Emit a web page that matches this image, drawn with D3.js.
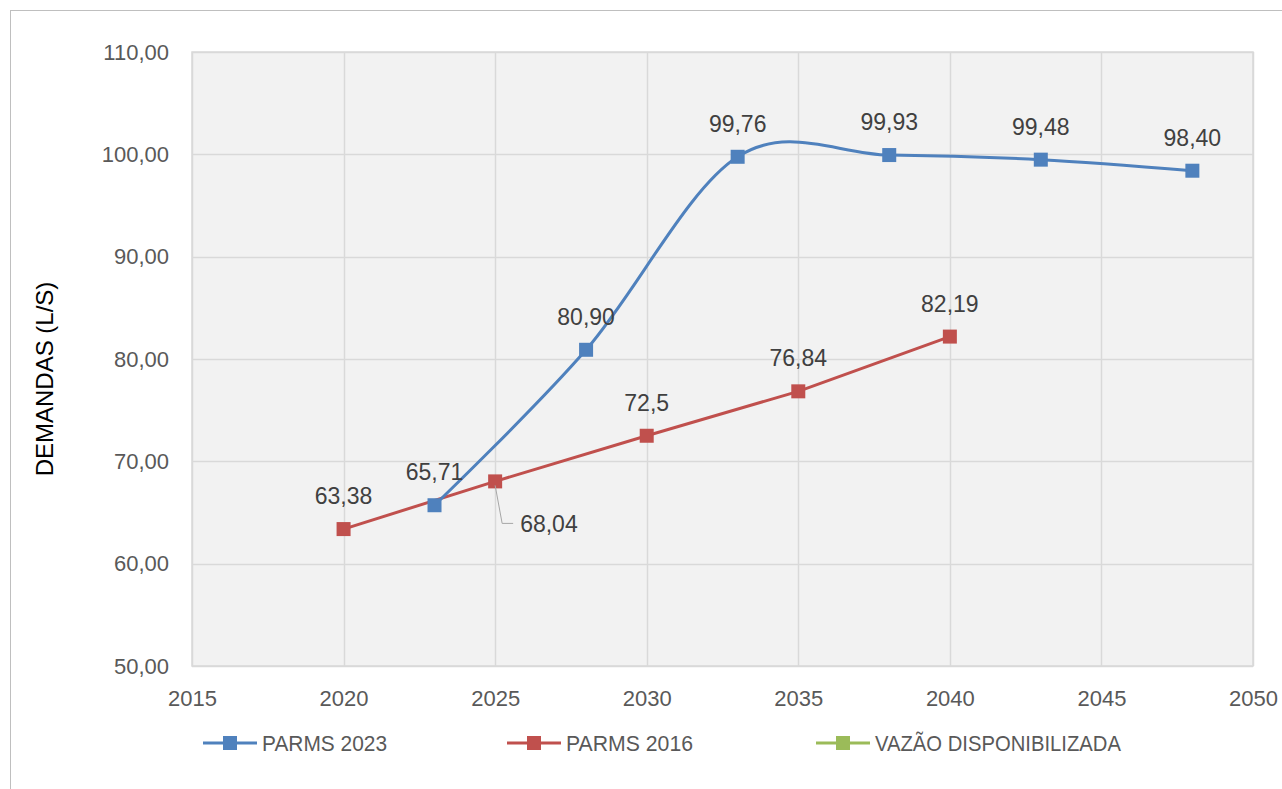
<!DOCTYPE html>
<html><head><meta charset="utf-8">
<script src="https://cdn.jsdelivr.net/npm/d3@7"></script>
<style>body{margin:0;background:#fff}svg{display:block}</style>
</head><body>
<script>
const years2023 = [2023, 2028, 2033, 2038, 2043, 2048];
const values2023 = [65.71, 80.90, 99.76, 99.93, 99.48, 98.40];
const labels2023 = ["65,71", "80,90", "99,76", "99,93", "99,48", "98,40"];
const years2016 = [2020, 2025, 2030, 2035, 2040];
const values2016 = [63.38, 68.04, 72.5, 76.84, 82.19];
const labels2016 = ["63,38", "68,04", "72,5", "76,84", "82,19"];
const yTicks = [50, 60, 70, 80, 90, 100, 110];
const xTicks = [2015, 2020, 2025, 2030, 2035, 2040, 2045, 2050];
const seriesNames = ["PARMS 2023", "PARMS 2016", "VAZÃO DISPONIBILIZADA"];
const seriesColors = ["#4f81bd", "#c0504d", "#9bbb59"];

const W = 1282, H = 789;
const font = "'Liberation Sans', Arial, sans-serif";
const svg = d3.select("body").append("svg").attr("width", W).attr("height", H);

// outer frame
svg.append("rect").attr("x", 10.5).attr("y", 10.5).attr("width", W + 10).attr("height", H + 10)
  .attr("fill", "#fff").attr("stroke", "#bfbfbf").attr("stroke-width", 1);

const L = 192, R = 1253, T = 52, B = 666;
const x = d3.scaleLinear().domain([2015, 2050]).range([L, R]);
const y = d3.scaleLinear().domain([50, 110]).range([B, T]);

svg.append("rect").attr("x", L).attr("y", T).attr("width", R - L).attr("height", B - T)
  .attr("fill", "#f2f2f2");

// gridlines
svg.append("g").selectAll("line").data(yTicks).join("line")
  .attr("x1", L).attr("x2", R).attr("y1", d => Math.round(y(d)) + 0.5).attr("y2", d => Math.round(y(d)) + 0.5)
  .attr("stroke", "#d9d9d9").attr("stroke-width", 1.5);
svg.append("g").selectAll("line").data(xTicks).join("line")
  .attr("y1", T).attr("y2", B).attr("x1", d => Math.round(x(d)) + 0.5).attr("x2", d => Math.round(x(d)) + 0.5)
  .attr("stroke", "#d9d9d9").attr("stroke-width", 1.5);
svg.append("rect").attr("x", L).attr("y", T).attr("width", R - L).attr("height", B - T)
  .attr("fill", "none").attr("stroke", "#d9d9d9").attr("stroke-width", 1.5);

// axes (labels only)
const yAxis = d3.axisLeft(y).tickValues(yTicks).tickSize(0).tickPadding(23)
  .tickFormat(d => d3.format(".2f")(d).replace(".", ","));
const gy = svg.append("g").attr("transform", `translate(${L},0)`).call(yAxis);
gy.select(".domain").remove();
gy.selectAll("text").attr("fill", "#595959").style("font-family", font).style("font-size", "22px");

const xAxis = d3.axisBottom(x).tickValues(xTicks).tickSize(0).tickPadding(24).tickFormat(d3.format("d"));
const gx = svg.append("g").attr("transform", `translate(0,${B})`).call(xAxis);
gx.select(".domain").remove();
gx.selectAll("text").attr("fill", "#595959").style("font-family", font).style("font-size", "22px");

// y title
svg.append("text").attr("transform", "translate(53,379) rotate(-90)")
  .attr("text-anchor", "middle").attr("fill", "#000")
  .style("font-family", font).style("font-size", "24px").text("DEMANDAS (L/S)");

// lines
const d2023 = years2023.map((yr, i) => ({x: yr, y: values2023[i], l: labels2023[i]}));
const d2016 = years2016.map((yr, i) => ({x: yr, y: values2016[i], l: labels2016[i]}));

svg.append("path").datum(d2016)
  .attr("d", d3.line().x(d => x(d.x)).y(d => y(d.y)))
  .attr("fill", "none").attr("stroke", seriesColors[1]).attr("stroke-width", 3);
svg.append("path").datum(d2023)
  .attr("d", d3.line().x(d => x(d.x)).y(d => y(d.y)).curve(d3.curveCatmullRom.alpha(0)))
  .attr("fill", "none").attr("stroke", seriesColors[0]).attr("stroke-width", 3);

const ms = 14;
svg.append("g").selectAll("rect").data(d2016).join("rect")
  .attr("x", d => x(d.x) - ms / 2).attr("y", d => y(d.y) - ms / 2).attr("width", ms).attr("height", ms)
  .attr("fill", seriesColors[1]);
svg.append("g").selectAll("rect").data(d2023).join("rect")
  .attr("x", d => x(d.x) - ms / 2).attr("y", d => y(d.y) - ms / 2).attr("width", ms).attr("height", ms)
  .attr("fill", seriesColors[0]);

// data labels
const lblStyle = sel => sel.attr("fill", "#404040").style("font-family", font).style("font-size", "23px");
svg.append("g").selectAll("text").data(d2023).join("text")
  .attr("x", d => x(d.x)).attr("y", d => y(d.y) - 25).attr("text-anchor", "middle")
  .call(lblStyle).text(d => d.l);
svg.append("g").selectAll("text").data(d2016.filter(d => d.x !== 2025)).join("text")
  .attr("x", d => x(d.x)).attr("y", d => y(d.y) - 25).attr("text-anchor", "middle")
  .call(lblStyle).text(d => d.l);
// offset label with leader line
const p = d2016.find(d => d.x === 2025);
const px = x(p.x), py = y(p.y);
svg.append("path").attr("d", `M${px},${py + 4} L${px + 7},${py + 42} L${px + 18},${py + 42}`)
  .attr("fill", "none").attr("stroke", "#a6a6a6").attr("stroke-width", 1);
svg.append("text").attr("x", px + 25).attr("y", py + 51).call(lblStyle).text(p.l);

// legend
const legX = [203, 507, 816];
const legW = [125, 127, 246];
const legY = 743;
seriesNames.forEach((name, i) => {
  const g = svg.append("g");
  g.append("line").attr("x1", legX[i]).attr("x2", legX[i] + 54).attr("y1", legY).attr("y2", legY)
    .attr("stroke", seriesColors[i]).attr("stroke-width", 3);
  g.append("rect").attr("x", legX[i] + 27 - 7).attr("y", legY - 7).attr("width", 14).attr("height", 14)
    .attr("fill", seriesColors[i]);
  g.append("text").attr("x", legX[i] + 59).attr("y", legY + 8).attr("fill", "#595959")
    .attr("textLength", legW[i]).attr("lengthAdjust", "spacingAndGlyphs")
    .style("font-family", font).style("font-size", "22px").text(name);
});
</script>
</body></html>
